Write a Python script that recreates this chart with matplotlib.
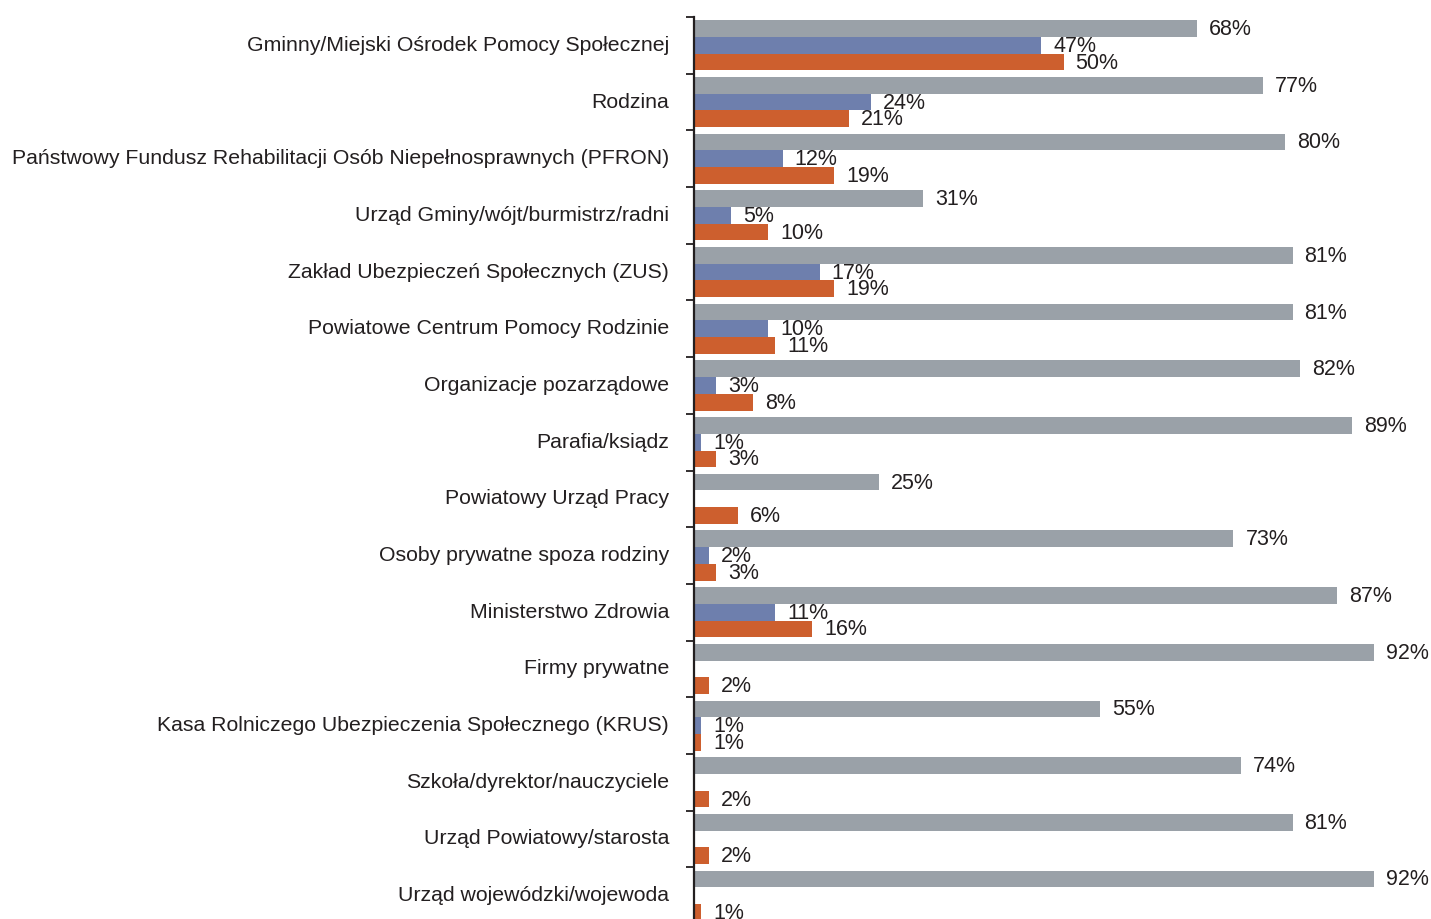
import matplotlib.pyplot as plt
import matplotlib.transforms as mtransforms
import numpy as np

plt.rcParams['font.family'] = ['Liberation Sans', 'DejaVu Sans']

categories = [
    "Gminny/Miejski Ośrodek Pomocy Społecznej",
    "Rodzina",
    "Państwowy Fundusz Rehabilitacji Osób Niepełnosprawnych (PFRON)",
    "Urząd Gminy/wójt/burmistrz/radni",
    "Zakład Ubezpieczeń Społecznych (ZUS)",
    "Powiatowe Centrum Pomocy Rodzinie",
    "Organizacje pozarządowe",
    "Parafia/ksiądz",
    "Powiatowy Urząd Pracy",
    "Osoby prywatne spoza rodziny",
    "Ministerstwo Zdrowia",
    "Firmy prywatne",
    "Kasa Rolniczego Ubezpieczenia Społecznego (KRUS)",
    "Szkoła/dyrektor/nauczyciele",
    "Urząd Powiatowy/starosta",
    "Urząd wojewódzki/wojewoda",
]
gray_vals = [68, 77, 80, 31, 81, 81, 82, 89, 25, 73, 87, 92, 55, 74, 81, 92]
blue_vals = [47, 24, 12, 5, 17, 10, 3, 1, None, 2, 11, None, 1, None, None, None]
orange_vals = [50, 21, 19, 10, 19, 11, 8, 3, 6, 3, 16, 2, 1, 2, 2, 1]

GRAY = "#9aa1a8"
BLUE = "#6e7fad"
ORANGE = "#cd5f2e"
TXT = "#231f20"

W, H = 1431, 920
fig = plt.figure(figsize=(W / 100, H / 100), dpi=100)
ax = fig.add_axes([694 / W, (920 - 925) / H, (1433 - 694) / W, 907 / H])

y = np.arange(len(categories))
h = 0.295
series = [(gray_vals, GRAY, -h), (blue_vals, BLUE, 0.0), (orange_vals, ORANGE, h)]
for vals, col, off in series:
    for yi, v in zip(y, vals):
        if v is None:
            continue
        ax.barh(yi + off, v, height=h, color=col, linewidth=0)
        ax.annotate(f"{v}%", (v, yi + off), xytext=(12, 0), textcoords="offset pixels",
                    va="center", ha="left", fontsize=15.5, color=TXT, annotation_clip=False)

ax.set_xlim(0, 100)
ax.set_ylim(len(categories) - 0.5, -0.5)
ax.set_yticks(y)
ax.set_yticklabels(categories, fontsize=15.3, color=TXT)
ax.set_yticks(np.arange(len(categories)) - 0.5, minor=True)
ax.tick_params(axis="y", which="major", length=0, pad=18)
ax.tick_params(axis="y", which="minor", length=6, width=1.3, color=TXT, direction="out")
ax.xaxis.set_visible(False)
for s in ["top", "right", "bottom"]:
    ax.spines[s].set_visible(False)
ax.spines["left"].set_linewidth(1.6)
ax.spines["left"].set_color(TXT)

# category labels sit a little above the group centre
shift = mtransforms.ScaledTranslation(0, 3 / 100, fig.dpi_scale_trans)
for lbl in ax.get_yticklabels():
    lbl.set_transform(lbl.get_transform() + shift)

fig.savefig("out.png", dpi=100)
